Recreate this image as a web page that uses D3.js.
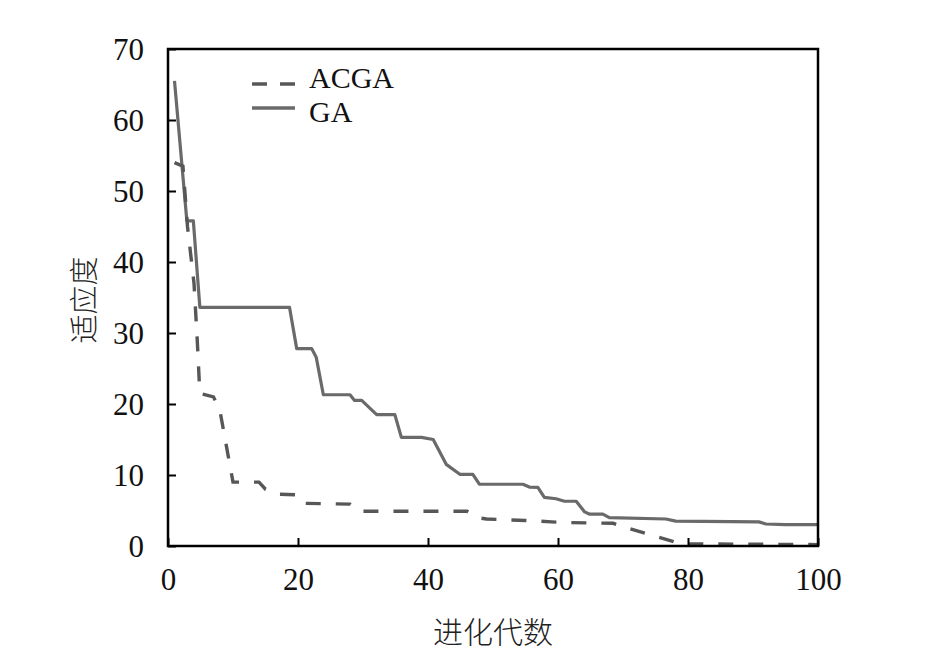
<!DOCTYPE html>
<html>
<head>
<meta charset="utf-8">
<script src="https://cdn.jsdelivr.net/npm/d3@7"></script>
<style>
  body { margin: 0; background: #fff; }
  svg { display: block; }
  .tick text { font-family: "Liberation Serif", "Times New Roman", serif; }
</style>
</head>
<body>
<div id="container"></div>
<script>
let w = 945;
let h = 651;

// generation / fitness breakpoints
let gaGen = [1, 2.9, 3.9, 4.9, 18.7, 19.8, 22.1, 22.8, 23.9, 28, 28.7, 29.8, 32.1, 34.9, 35.9, 39, 40.8, 42.8, 44.9, 46.9, 47.9, 54.6, 55.6, 56.9, 57.9, 59.7, 61, 62.8, 64.1, 64.8, 66.9, 67.9, 76.6, 78.1, 90.9, 92, 95, 100];
let gaFit = [65.5, 45.8, 45.8, 33.6, 33.6, 27.8, 27.8, 26.6, 21.3, 21.3, 20.5, 20.5, 18.5, 18.5, 15.3, 15.3, 15.0, 11.5, 10.1, 10.1, 8.7, 8.7, 8.3, 8.25, 6.85, 6.65, 6.3, 6.3, 4.8, 4.5, 4.5, 4.0, 3.8, 3.5, 3.4, 3.1, 3.0, 3.0];

let acgaGen = [1, 2.3, 3, 4, 4.5, 4.9, 7, 8, 9, 10, 14, 15, 17, 20, 21, 28, 29.5, 46, 47.5, 49, 55, 59, 61, 68.5, 70, 79, 100];
let acgaFit = [54, 53.5, 45, 37, 29, 21.5, 21, 19, 14, 9, 9, 8, 7.3, 7.2, 6, 5.9, 4.9, 4.9, 4.0, 3.8, 3.6, 3.4, 3.3, 3.2, 2.7, 0.3, 0.2];

let xTicks = [0, 20, 40, 60, 80, 100];
let yTicks = [0, 10, 20, 30, 40, 50, 60, 70];

let seriesNames = ["ACGA", "GA"];
let xTitle = "进化代数";
let yTitle = "适应度";

let pLeft = 168, pRight = 818, pTop = 49, pBottom = 546;

let viz = d3.select("#container").append("svg")
    .attr("width", w)
    .attr("height", h)
    .style("background-color", "white");

let xScale = d3.scaleLinear().domain([0, 100]).range([pLeft, pRight]);
let yScale = d3.scaleLinear().domain([0, 70]).range([pBottom, pTop]);

viz.append("clipPath").attr("id", "plot")
  .append("rect")
    .attr("x", pLeft).attr("y", pTop)
    .attr("width", pRight - pLeft).attr("height", pBottom - pTop);

let lineMaker = d3.line()
    .x(d => xScale(d[0]))
    .y(d => yScale(d[1]));

let acgaData = acgaGen.map((g, i) => [g, acgaFit[i]]);
let gaData = gaGen.map((g, i) => [g, gaFit[i]]);

viz.append("path")
    .datum(gaData)
    .attr("clip-path", "url(#plot)")
    .attr("d", lineMaker)
    .attr("fill", "none")
    .attr("stroke", "#6a6a6a")
    .attr("stroke-width", 3.2)
    .attr("stroke-linejoin", "round");

viz.append("path")
    .datum(acgaData)
    .attr("clip-path", "url(#plot)")
    .attr("d", lineMaker)
    .attr("fill", "none")
    .attr("stroke", "#575757")
    .attr("stroke-width", 3.4)
    .attr("stroke-dasharray", "15,15");

// axes, ticks pointing inward
let xAxis = viz.append("g")
    .attr("transform", "translate(0," + pBottom + ")")
    .call(d3.axisBottom(xScale).tickValues(xTicks).tickSizeInner(-8).tickSizeOuter(0).tickPadding(22));
let yAxis = viz.append("g")
    .attr("transform", "translate(" + pLeft + ",0)")
    .call(d3.axisLeft(yScale).tickValues(yTicks).tickSizeInner(-8).tickSizeOuter(0).tickPadding(24));

[xAxis, yAxis].forEach(function(ax){
  ax.select(".domain").remove();
  ax.selectAll(".tick line").attr("stroke", "#000").attr("stroke-width", 2);
  ax.selectAll(".tick text").attr("font-size", 31).attr("fill", "#111");
});
xAxis.selectAll(".tick text").attr("dy", "0.71em");
yAxis.selectAll(".tick text").attr("dy", "0.35em");

// frame
viz.append("rect")
    .attr("x", pLeft).attr("y", pTop)
    .attr("width", pRight - pLeft).attr("height", pBottom - pTop)
    .attr("fill", "none")
    .attr("stroke", "#000")
    .attr("stroke-width", 2.5);

// titles
viz.append("text")
    .attr("x", 493)
    .attr("y", 643)
    .attr("text-anchor", "middle")
    .attr("font-family", "'Noto Sans CJK SC', sans-serif")
    .attr("font-weight", 300)
    .attr("font-size", 30)
    .attr("fill", "#222")
    .text(xTitle);

viz.append("text")
    .attr("transform", "translate(95," + 300 + ") rotate(-90)")
    .attr("text-anchor", "middle")
    .attr("font-family", "'Noto Sans CJK SC', sans-serif")
    .attr("font-weight", 300)
    .attr("font-size", 29)
    .attr("fill", "#222")
    .text(yTitle);

// legend
let legend = viz.append("g");
let legendRows = [
  {name: seriesNames[0], y: 84, base: 88, dash: "15,13", color: "#575757"},
  {name: seriesNames[1], y: 108, base: 122, dash: null, color: "#6a6a6a"}
];
legendRows.forEach(function(r){
  legend.append("line")
      .attr("x1", 252).attr("x2", 295)
      .attr("y1", r.y).attr("y2", r.y)
      .attr("stroke", r.color)
      .attr("stroke-width", 3.4)
      .attr("stroke-dasharray", r.dash);
  legend.append("text")
      .attr("x", 309)
      .attr("y", r.base)
      .attr("font-family", "'Liberation Serif', serif")
      .attr("font-size", 30)
      .attr("fill", "#111")
      .text(r.name);
});
</script>
</body>
</html>
